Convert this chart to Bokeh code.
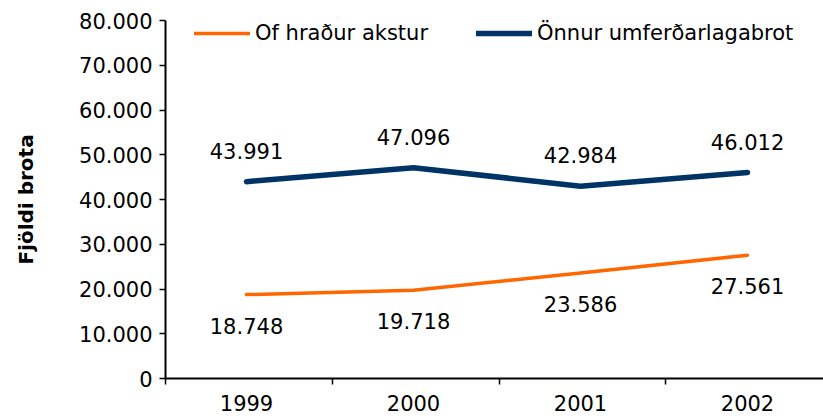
from bokeh.plotting import figure
from bokeh.models import Range1d, FixedTicker, ColumnDataSource, Legend, LegendItem
from bokeh.core.properties import value
from bokeh.embed import file_html
from bokeh.resources import INLINE

years = ["1999", "2000", "2001", "2002"]
of_hradur = [18748, 19718, 23586, 27561]
onnur = [43991, 47096, 42984, 46012]
y_ticks = [0, 10000, 20000, 30000, 40000, 50000, 60000, 70000, 80000]
series_names = ["Of hraður akstur", "Önnur umferðarlagabrot"]


def fmt(v):
    return f"{v:,}".replace(",", ".")


FONT = "DejaVu Sans"
FS = "21px"

xs = list(range(len(years)))

p = figure(frame_width=658, frame_height=358, output_backend="svg", toolbar_location=None,
           x_range=Range1d(-0.485, 3.455), y_range=Range1d(0, 80000),
           min_border_left=165, min_border_right=0, min_border_top=20, min_border_bottom=38)
p.outline_line_color = None
p.xgrid.visible = False
p.ygrid.visible = False
p.background_fill_color = "white"
p.border_fill_color = "white"

src_o = ColumnDataSource(dict(x=xs, y=of_hradur, t=[fmt(v) for v in of_hradur]))
src_b = ColumnDataSource(dict(x=xs, y=onnur, t=[fmt(v) for v in onnur]))

r_o = p.line("x", "y", source=src_o, line_color="#FF6600", line_width=3.5, line_cap="round", line_join="round")
r_b = p.line("x", "y", source=src_b, line_color="#003366", line_width=5.5, line_cap="round", line_join="round")

p.text("x", "y", text="t", source=src_o, text_align="center", text_baseline="middle", y_offset=31,
       text_font=value(FONT), text_font_size=FS, text_color="black")
p.text("x", "y", text="t", source=src_b, text_align="center", text_baseline="middle", y_offset=-31,
       text_font=value(FONT), text_font_size=FS, text_color="black")

# x axis
xa = p.xaxis[0]
xa.ticker = FixedTicker(ticks=xs, minor_ticks=[-0.485, 0.515, 1.515, 2.51])
xa.major_label_overrides = {i: y for i, y in zip(xs, years)}
xa.major_tick_out = 0
xa.major_tick_in = 0
xa.minor_tick_out = 6
xa.minor_tick_in = 0
xa.minor_tick_line_width = 1.5
xa.minor_tick_line_color = "black"
xa.axis_line_width = 2
xa.axis_line_color = "black"
xa.major_label_standoff = 10
xa.major_label_text_font = FONT
xa.major_label_text_font_size = FS
xa.major_label_text_color = "black"

# y axis
ya = p.yaxis[0]
ya.ticker = FixedTicker(ticks=y_ticks, minor_ticks=[])
ya.major_label_overrides = {v: fmt(v) for v in y_ticks}
ya.major_tick_out = 6
ya.major_tick_in = 0
ya.major_tick_line_width = 1.5
ya.major_tick_line_color = "black"
ya.minor_tick_out = 0
ya.minor_tick_in = 0
ya.axis_line_width = 2
ya.axis_line_color = "black"
ya.major_label_standoff = 7
ya.major_label_text_font = FONT
ya.major_label_text_font_size = FS
ya.major_label_text_color = "black"
ya.axis_label = "Fjöldi brota"
ya.axis_label_text_font = FONT
ya.axis_label_text_font_size = "20px"
ya.axis_label_text_font_style = "bold"
ya.axis_label_text_color = "black"
ya.axis_label_standoff = 38

legend = Legend(items=[LegendItem(label=series_names[0], renderers=[r_o]),
                       LegendItem(label=series_names[1], renderers=[r_b])],
                orientation="horizontal", location=(29, 333),
                border_line_color=None, background_fill_alpha=0,
                label_text_font=FONT, label_text_font_size=FS, label_text_color="black",
                glyph_width=56, glyph_height=20, label_standoff=5, spacing=48, padding=0, margin=0)
p.add_layout(legend, "center")

open("out.html", "w").write(file_html(p, INLINE))
